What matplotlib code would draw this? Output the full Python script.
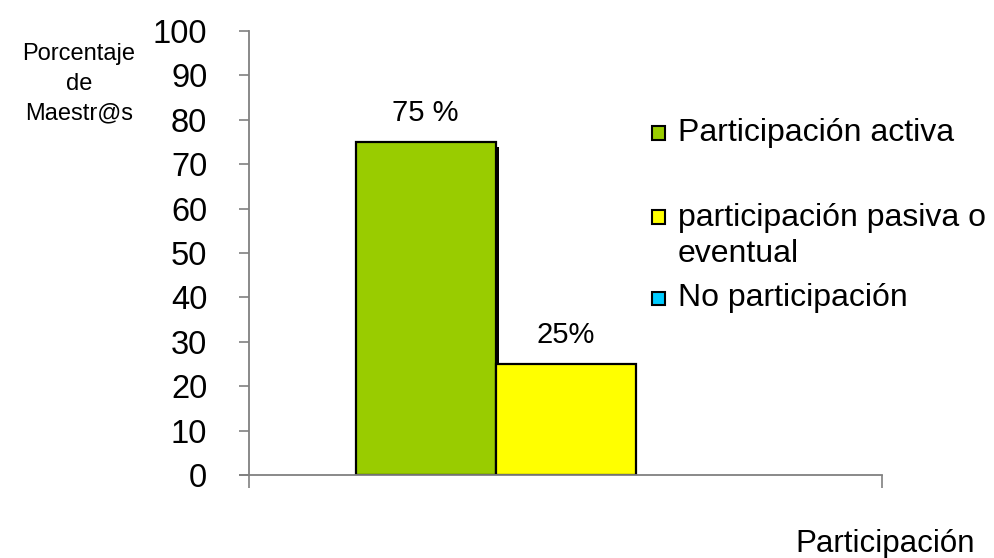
import matplotlib
matplotlib.use("Agg")
import matplotlib.pyplot as plt
from matplotlib.patches import Rectangle

plt.rcParams['font.family'] = ['Liberation Sans', 'DejaVu Sans']

# Data
series_labels = ["Participación activa", "participación pasiva o\neventual", "No participación"]
series_values = [75, 25, 0]
value_labels = ["75 %", "25%", ""]
series_colors = ["#99CC00", "#FFFF00", "#00CCFF"]
y_ticks = [0, 10, 20, 30, 40, 50, 60, 70, 80, 90, 100]

fig = plt.figure(figsize=(9.94, 5.58), dpi=100)
ax = fig.add_axes([0.2505, 0.1487, 0.637, 0.7957])

bar_w = 0.221
center = 0.5
positions = [center + (i - 1) * bar_w for i in range(len(series_values))]

# drop shadow behind the first bar
ax.bar(positions[0] + 0.006, series_values[0], width=bar_w, bottom=-1.1,
       color="black", edgecolor="none", zorder=1)

edge_colors = ["black" if v > 0 else "none" for v in series_values]
bars = ax.bar(positions, series_values, width=bar_w, color=series_colors,
              edgecolor=edge_colors, linewidth=1.6, zorder=2)

for b, txt in zip(bars, value_labels):
    if txt:
        ax.annotate(txt, (b.get_x() + b.get_width() / 2, b.get_height()),
                    xytext=(0, 11), textcoords="offset points",
                    ha="center", va="bottom", fontsize=21)

ax.set_xlim(0, 1)
ax.set_ylim(0, 100)
ax.set_yticks(y_ticks)
ax.set_xticks([0, 1])
ax.set_xticklabels([])
ax.tick_params(axis="y", direction="out", length=7, width=1.2, color="#808080",
               pad=23, labelsize=23.5)
ax.tick_params(axis="x", direction="out", length=9.5, width=1.2, color="#808080")
for s in ("top", "right"):
    ax.spines[s].set_visible(False)
for s in ("left", "bottom"):
    ax.spines[s].set_color("#808080")
    ax.spines[s].set_linewidth(1.3)
ax.spines["bottom"].set_bounds(-0.0142, 1)
ax.patch.set_visible(False)

# y-axis caption
fig.text(79 / 994, 1 - 84 / 558, "Porcentaje\nde\nMaestr@s", ha="center", va="center",
         fontsize=17, linespacing=1.45)

# x-axis caption
fig.text(885 / 994, 1 - 544 / 558, "Participación", ha="center", va="center", fontsize=22.5)

# legend: marker aligned with the first line of each entry
legend_mark_y = [133, 217, 298]
legend_text_y = [133, 236, 298]
W, H = 994, 558
for lab, col, ym, yt in zip(series_labels, series_colors, legend_mark_y, legend_text_y):
    fig.patches.append(Rectangle((652 / W, 1 - (ym + 6.5) / H), 13 / W, 13 / H,
                                 transform=fig.transFigure, facecolor=col,
                                 edgecolor="black", linewidth=1.5))
    fig.text(678 / W, 1 - yt / H, lab, ha="left", va="center", fontsize=23,
             linespacing=1.3)

fig.savefig("out.png", dpi=100)
